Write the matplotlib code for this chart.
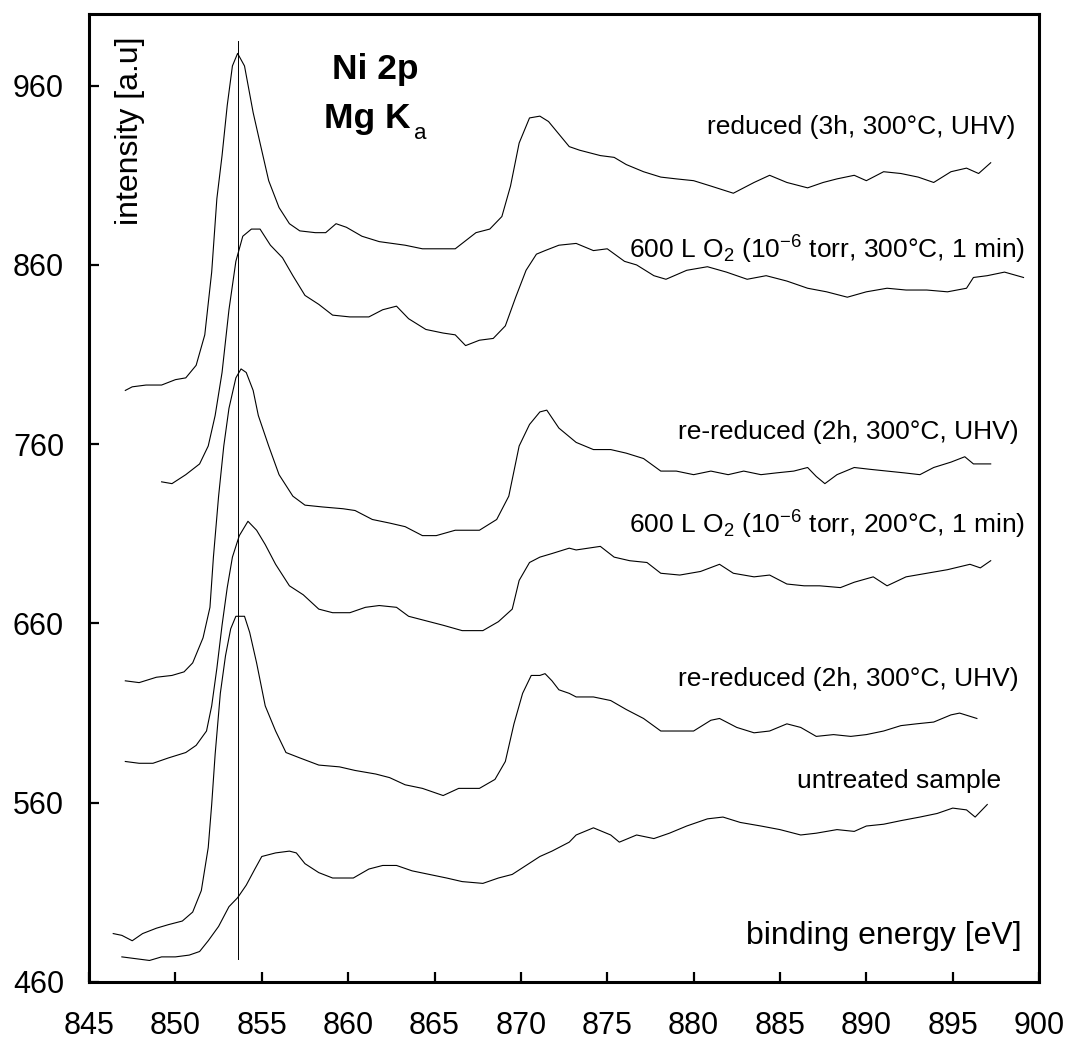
import matplotlib
matplotlib.use("Agg")
import matplotlib.pyplot as plt

plt.rcParams["font.family"] = ["Liberation Sans", "DejaVu Sans"]
plt.rcParams["mathtext.fontset"] = "custom"
plt.rcParams["mathtext.rm"] = "Liberation Sans"
plt.rcParams["mathtext.it"] = "Liberation Sans:italic"
plt.rcParams["mathtext.default"] = "regular"

# ---- Ni 2p spectra (binding energy in eV, intensity in a.u., stacked) ----
reduced_3h_x = [847.1, 847.5, 848.3, 849.2, 850.0, 850.6, 851.2, 851.7, 852.1, 852.4,
                852.7, 853.0, 853.3, 853.6, 854.0, 854.5, 854.9, 855.4, 856.0, 856.6,
                857.2, 858.1, 858.7, 859.3, 859.9, 860.8, 861.8, 863.3, 864.3, 865.3,
                866.2, 867.4, 868.2, 868.9, 869.4, 869.9, 870.5, 871.1, 871.6, 872.2,
                872.8, 873.4, 874.6, 875.4, 876.1, 877.1, 878.1, 879.0, 880.0, 881.0,
                882.3, 883.5, 884.4, 885.4, 886.6, 887.5, 888.3, 889.3, 890.0, 891.0,
                892.0, 893.0, 893.9, 894.9, 895.8, 896.5, 897.2]
reduced_3h_y = [790, 792, 793, 793, 796, 797, 804, 821, 856, 897,
                921, 949, 971, 978, 971, 945, 928, 907, 892, 883,
                879, 878, 878, 883, 881, 876, 873, 871, 869, 869,
                869, 878, 880, 887, 904, 928, 942, 943, 940, 933,
                926, 924, 921, 920, 916, 912, 909, 908, 907, 904,
                900, 906, 910, 906, 903, 906, 908, 910, 907, 912,
                911, 909, 906, 912, 914, 911, 917]

oxid_300_x = [849.2, 849.8, 850.6, 851.4, 851.9, 852.3, 852.7, 853.1, 853.5, 853.9,
              854.4, 854.9, 855.5, 856.2, 856.8, 857.5, 858.3, 859.1, 860.1, 861.2,
              862.0, 862.8, 863.5, 864.5, 865.5, 866.2, 866.8, 867.6, 868.4, 869.1,
              869.7, 870.3, 870.9, 871.4, 872.2, 873.2, 874.2, 875.0, 876.0, 876.7,
              877.7, 878.4, 879.6, 880.8, 881.9, 883.1, 884.2, 885.4, 886.6, 887.7,
              888.9, 890.0, 891.2, 892.3, 893.5, 894.7, 895.8, 896.2, 897.0, 898.0,
              899.1]
oxid_300_y = [739, 738, 743, 749, 759, 776, 800, 835, 862, 876,
              880, 880, 871, 864, 854, 843, 838, 832, 831, 831,
              835, 837, 830, 824, 822, 821, 815, 818, 819, 826,
              842, 857, 866, 868, 871, 872, 868, 869, 862, 860,
              854, 852, 857, 859, 856, 852, 854, 851, 847, 845,
              842, 845, 847, 846, 846, 845, 847, 853, 854, 856,
              853]

rereduced_a_x = [847.1, 847.9, 848.9, 849.8, 850.5, 851.0, 851.6, 852.0, 852.2, 852.5,
                 852.8, 853.1, 853.5, 853.8, 854.1, 854.5, 854.8, 855.4, 856.0, 856.8,
                 857.5, 858.5, 859.7, 860.4, 861.4, 862.4, 863.3, 864.3, 865.1, 866.2,
                 867.6, 868.6, 869.3, 869.9, 870.5, 871.1, 871.5, 872.2, 873.2, 874.2,
                 875.2, 876.1, 877.1, 878.1, 879.0, 880.0, 881.0, 882.0, 882.9, 883.9,
                 884.8, 885.8, 886.6, 887.1, 887.6, 888.3, 889.3, 890.2, 891.2, 892.2,
                 893.1, 893.9, 894.9, 895.7, 896.2, 897.2]
rereduced_a_y = [628, 627, 630, 631, 633, 638, 652, 669, 697, 731,
                 759, 780, 797, 802, 800, 790, 776, 759, 743, 731,
                 726, 725, 724, 723, 718, 716, 714, 709, 709, 712,
                 712, 718, 731, 759, 771, 778, 779, 769, 761, 757,
                 757, 755, 752, 745, 745, 743, 745, 743, 745, 743,
                 744, 745, 747, 742, 738, 743, 747, 746, 745, 744,
                 743, 747, 750, 753, 749, 749]

oxid_200_x = [847.1, 847.9, 848.7, 849.6, 850.6, 851.2, 851.8, 852.1, 852.4, 852.7,
              853.0, 853.3, 853.7, 854.2, 854.7, 855.2, 855.8, 856.6, 857.4, 858.3,
              859.1, 860.1, 861.0, 861.8, 862.8, 863.5, 864.3, 865.5, 866.6, 867.8,
              868.7, 869.5, 869.9, 870.5, 871.1, 871.8, 872.8, 873.2, 874.6, 875.4,
              876.3, 877.3, 878.1, 879.2, 880.4, 881.5, 882.3, 883.5, 884.4, 885.4,
              886.4, 887.3, 888.5, 889.3, 890.4, 891.2, 892.3, 893.5, 894.7, 896.0,
              896.6, 897.2]
oxid_200_y = [583, 582, 582, 585, 588, 592, 600, 614, 635, 659,
              680, 697, 709, 717, 712, 704, 693, 681, 676, 668,
              666, 666, 669, 670, 669, 664, 662, 659, 656, 656,
              661, 668, 684, 694, 697, 699, 702, 701, 703, 697,
              695, 694, 688, 687, 689, 693, 688, 686, 687, 682,
              681, 681, 680, 683, 686, 681, 686, 688, 690, 693,
              691, 695]

rereduced_b_x = [846.4, 846.9, 847.5, 848.1, 848.9, 849.6, 850.4, 851.0, 851.5, 851.9,
                 852.1, 852.3, 852.6, 852.9, 853.2, 853.5, 854.0, 854.3, 854.7, 855.2,
                 855.8, 856.4, 857.2, 858.3, 859.5, 860.4, 861.6, 862.4, 863.3, 864.3,
                 865.5, 866.4, 867.6, 868.5, 869.1, 869.6, 870.1, 870.6, 871.1, 871.4,
                 871.8, 872.2, 872.8, 873.2, 874.2, 875.2, 876.1, 877.1, 878.1, 879.0,
                 880.0, 881.0, 881.5, 882.5, 883.5, 884.4, 885.4, 886.2, 887.1, 888.1,
                 889.1, 890.0, 891.0, 892.0, 892.9, 893.9, 894.9, 895.4, 896.4]
rereduced_b_y = [487, 486, 483, 487, 490, 492, 494, 499, 511, 535,
                 559, 587, 621, 642, 657, 664, 664, 655, 638, 614,
                 600, 588, 585, 581, 580, 578, 576, 574, 570, 568,
                 564, 568, 568, 573, 583, 604, 621, 631, 631, 632,
                 628, 623, 621, 619, 619, 617, 612, 607, 600, 600,
                 600, 606, 607, 602, 599, 600, 604, 602, 597, 598,
                 597, 598, 600, 603, 604, 605, 609, 610, 607]

untreated_x = [846.9, 847.7, 848.5, 849.2, 850.0, 850.8, 851.4, 851.9, 852.5, 853.1,
               853.6, 854.1, 854.6, 855.0, 855.8, 856.6, 857.0, 857.5, 858.3, 859.1,
               860.3, 861.2, 862.0, 862.8, 863.7, 864.7, 865.7, 866.6, 867.8, 868.7,
               869.5, 870.3, 871.1, 871.8, 872.8, 873.2, 874.2, 875.2, 875.7, 876.7,
               877.7, 878.6, 879.6, 880.8, 881.7, 882.7, 883.9, 885.0, 886.2, 887.1,
               888.3, 889.3, 890.0, 891.0, 892.0, 893.1, 894.1, 895.0, 895.8, 896.3,
               897.0]
untreated_y = [474, 473, 472, 474, 474, 475, 477, 483, 491, 502,
               507, 514, 523, 530, 532, 533, 532, 526, 521, 518,
               518, 523, 525, 525, 522, 520, 518, 516, 515, 518,
               520, 525, 530, 533, 538, 542, 546, 542, 538, 542,
               540, 543, 547, 551, 552, 549, 547, 545, 542, 543,
               545, 544, 547, 548, 550, 552, 554, 557, 556, 552,
               559]

curves = [
    (reduced_3h_x, reduced_3h_y),
    (oxid_300_x, oxid_300_y),
    (rereduced_a_x, rereduced_a_y),
    (oxid_200_x, oxid_200_y),
    (rereduced_b_x, rereduced_b_y),
    (untreated_x, untreated_y),
]

# curve captions: (text, right edge x, baseline y)
captions = [
    ("reduced (3h, 300°C, UHV)", 898.6, 933),
    ("600 L O$_2$ (10$^{-6}$ torr, 300°C, 1 min)", 899.2, 863.5),
    ("re-reduced (2h, 300°C, UHV)", 898.8, 763),
    ("600 L O$_2$ (10$^{-6}$ torr, 200°C, 1 min)", 899.2, 710),
    ("re-reduced (2h, 300°C, UHV)", 898.8, 625),
    ("untreated sample", 897.8, 568),
]

# Ni 2p3/2 metal reference position
ref_line_x = 853.6
ref_line_y = (473, 985)

x_ticks = [845, 850, 855, 860, 865, 870, 875, 880, 885, 890, 895, 900]
y_ticks = [460, 560, 660, 760, 860, 960]

fig = plt.figure(figsize=(10.69, 10.42), dpi=100)
ax = fig.add_axes([0.0833, 0.0576, 0.8887, 0.9290])

for xs, ys in curves:
    ax.plot(xs, ys, color="black", linewidth=0.8)

ax.plot([ref_line_x, ref_line_x], ref_line_y, color="black", linewidth=0.7)

for text, xr, yb in captions:
    ax.text(xr, yb, text, ha="right", va="baseline", fontsize=19)

ax.text(861.56, 963.6, "Ni 2p", ha="center", va="baseline",
        fontsize=25.5, fontweight="bold")
ax.text(863.6, 936.3, "Mg K", ha="right", va="baseline",
        fontsize=25.5, fontweight="bold")
ax.text(863.8, 930.5, "a", ha="left", va="baseline", fontsize=16)

ax.text(899.0, 481, "binding energy [eV]", ha="right", va="baseline", fontsize=23)
ax.text(0.043, 0.977, "intensity [a.u]", rotation=90, ha="center", va="top",
        fontsize=23, transform=ax.transAxes)

ax.set_xlim(845, 900)
ax.set_ylim(460, 1000)
ax.set_xticks(x_ticks)
ax.set_yticks(y_ticks)
for s in ax.spines.values():
    s.set_linewidth(2.2)
ax.tick_params(axis="both", direction="in", length=7, width=1.6, labelsize=22)
ax.tick_params(axis="x", pad=21)
ax.tick_params(axis="y", pad=18)

fig.savefig("out.png", dpi=100)
